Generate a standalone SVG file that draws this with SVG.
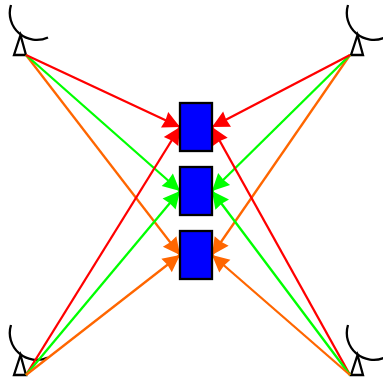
<svg xmlns="http://www.w3.org/2000/svg" width="383" height="381" viewBox="0 0 383 381">
<style>
.ant{fill:none;stroke:#000;stroke-width:2.3}
.box{fill:#0000ff;stroke:#000;stroke-width:2.3}
.c{fill:none;stroke-width:2.3}
.r{stroke:#ff0000}.g{stroke:#00ff00}.o{stroke:#ff6600}
</style>
<defs>
<g id="antenna"><path d="M-9,-50 A27,27 0 0 0 28,-17.500"/><path d="M0.500,-20 L-6,0 L6,0 Z"/></g>
<marker id="mr" markerUnits="userSpaceOnUse" markerWidth="20" markerHeight="20" refX="18" refY="10" orient="auto"><path d="M18,10 L1,1.500 L2,10 L1,18.500 Z" fill="#ff0000"/></marker>
<marker id="mg" markerUnits="userSpaceOnUse" markerWidth="20" markerHeight="20" refX="18" refY="10" orient="auto"><path d="M18,10 L1,1.500 L2,10 L1,18.500 Z" fill="#00ff00"/></marker>
<marker id="mo" markerUnits="userSpaceOnUse" markerWidth="20" markerHeight="20" refX="18" refY="10" orient="auto"><path d="M18,10 L1,1.500 L2,10 L1,18.500 Z" fill="#ff6600"/></marker>
</defs>
<g id="antenna-tl" class="ant"><use href="#antenna" x="20" y="55"/></g>
<g id="antenna-tr" class="ant"><use href="#antenna" x="357" y="55"/></g>
<g id="antenna-bl" class="ant"><use href="#antenna" x="20" y="375"/></g>
<g id="antenna-br" class="ant"><use href="#antenna" x="357" y="375"/></g>
<g id="connectors" class="c">
<line class="o" marker-end="url(#mo)" x1="26" y1="55" x2="180" y2="255"/>
<line class="g" marker-end="url(#mg)" x1="26" y1="55" x2="180" y2="191"/>
<line class="r" marker-end="url(#mr)" x1="26" y1="55" x2="180" y2="127"/>
<line class="o" marker-end="url(#mo)" x1="350" y1="55" x2="212" y2="255"/>
<line class="g" marker-end="url(#mg)" x1="350" y1="55" x2="212" y2="191"/>
<line class="r" marker-end="url(#mr)" x1="350" y1="55" x2="212" y2="127"/>
<line class="r" marker-end="url(#mr)" x1="26" y1="375" x2="180" y2="127"/>
<line class="g" marker-end="url(#mg)" x1="26" y1="375" x2="180" y2="191"/>
<line class="o" marker-end="url(#mo)" x1="26" y1="375" x2="180" y2="255"/>
<line class="r" marker-end="url(#mr)" x1="350" y1="375" x2="212" y2="127"/>
<line class="g" marker-end="url(#mg)" x1="350" y1="375" x2="212" y2="191"/>
<line class="o" marker-end="url(#mo)" x1="350" y1="375" x2="212" y2="255"/>
</g>
<g id="rx-1"><rect class="box" x="180" y="103" width="32" height="48"/></g>
<g id="rx-2"><rect class="box" x="180" y="167" width="32" height="48"/></g>
<g id="rx-3"><rect class="box" x="180" y="231" width="32" height="48"/></g>
</svg>
